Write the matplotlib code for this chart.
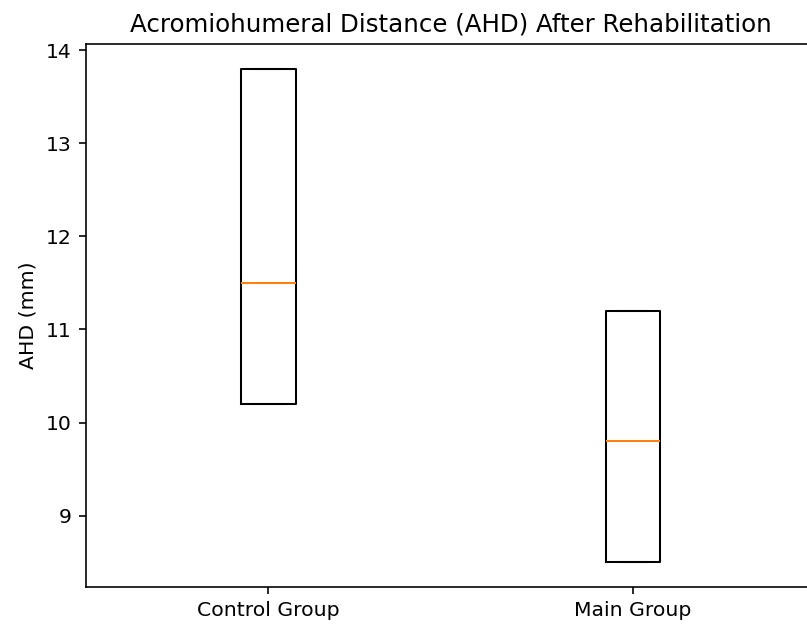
import matplotlib
matplotlib.use("Agg")
import matplotlib.pyplot as plt

groups = ["Control Group", "Main Group"]
ahd_min = [10.2, 8.5]
ahd_median = [11.5, 9.8]
ahd_max = [13.8, 11.2]

stats = []
for name, lo, med, hi in zip(groups, ahd_min, ahd_median, ahd_max):
    stats.append({"label": name, "med": med, "q1": lo, "q3": hi,
                  "whislo": lo, "whishi": hi, "fliers": []})

fig = plt.figure(figsize=(807 / 147, 624 / 147), dpi=147)
# the reference is cropped on the right, so the axes run past the edge
ax = fig.add_axes([0.1062, 0.0593, 0.9043, 0.8702])
ax.bxp(stats)
ax.spines["right"].set_visible(False)
ax.set_title("Acromiohumeral Distance (AHD) After Rehabilitation")
ax.set_ylabel("AHD (mm)")

fig.savefig("out.png", dpi=147)
